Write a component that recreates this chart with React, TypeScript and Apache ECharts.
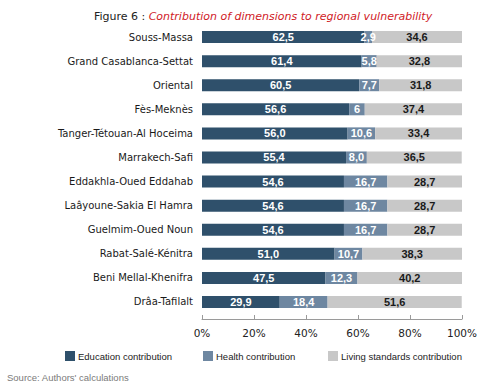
import React, { useEffect, useRef } from "react";
import * as echarts from "echarts";

const categories = [
  "Souss-Massa",
  "Grand Casablanca-Settat",
  "Oriental",
  "Fès-Meknès",
  "Tanger-Tétouan-Al Hoceima",
  "Marrakech-Safi",
  "Eddakhla-Oued Eddahab",
  "Laâyoune-Sakia El Hamra",
  "Guelmim-Oued Noun",
  "Rabat-Salé-Kénitra",
  "Beni Mellal-Khenifra",
  "Drâa-Tafilalt",
];
const education = [62.5, 61.4, 60.5, 56.6, 56.0, 55.4, 54.6, 54.6, 54.6, 51.0, 47.5, 29.9];
const health = [2.9, 5.8, 7.7, 6, 10.6, 8.0, 16.7, 16.7, 16.7, 10.7, 12.3, 18.4];
const healthLabels = ["2,9", "5,8", "7,7", "6", "10,6", "8,0", "16,7", "16,7", "16,7", "10,7", "12,3", "18,4"];
const living = [34.6, 32.8, 31.8, 37.4, 33.4, 36.5, 28.7, 28.7, 28.7, 38.3, 40.2, 51.6];
const seriesNames = ["Education contribution", "Health contribution", "Living standards contribution"];
const xTicks = [0, 20, 40, 60, 80, 100];

const fmt = (v: number) => v.toFixed(1).replace(".", ",");

export default function App() {
  const ref = useRef<HTMLDivElement>(null);
  useEffect(() => {
    if (!ref.current) return;
    const chart = echarts.init(ref.current, null, { renderer: "svg" });
    const labelBase = {
      show: true,
      position: "inside",
      fontFamily: "Liberation Sans",
      fontWeight: "bold",
      fontSize: 11,
    };
    const legendLefts = [60, 198, 323];
    const legendBase = {
      top: 346,
      icon: "rect",
      itemWidth: 10,
      itemHeight: 10,
      itemGap: 0,
      textStyle: { fontFamily: "Liberation Sans", fontSize: 9.5, color: "#222222", padding: [0, 0, 0, -2] },
    };
    chart.setOption({
      animation: false,
      backgroundColor: "#ffffff",
      textStyle: { fontFamily: "DejaVu Sans" },
      title: {
        text: "{a|Figure 6 : }{b|Contribution of dimensions to regional vulnerability}",
        left: 258,
        textAlign: "center",
        top: 6,
        textStyle: {
          fontWeight: "normal",
          rich: {
            a: { fontFamily: "DejaVu Sans", fontSize: 11, color: "#222222", fontWeight: "normal" },
            b: {
              fontFamily: "DejaVu Sans",
              fontSize: 11,
              color: "#d0201f",
              fontStyle: "italic",
              fontWeight: "normal",
            },
          },
        },
      },
      legend: seriesNames.map((n, i) => ({ ...legendBase, left: legendLefts[i], data: [n] })),
      grid: { left: 202, right: 17, top: 25, bottom: 75, containLabel: false },
      xAxis: {
        type: "value",
        min: xTicks[0],
        max: xTicks[xTicks.length - 1],
        interval: 20,
        offset: 5,
        axisLine: { show: true, lineStyle: { color: "#9a9a9a" } },
        axisTick: { show: true, length: 4, inside: true, lineStyle: { color: "#9a9a9a" } },
        splitLine: { show: false },
        axisLabel: {
          formatter: "{value}%",
          color: "#222222",
          fontFamily: "DejaVu Sans",
          fontSize: 10.5,
          margin: 8,
        },
      },
      yAxis: {
        type: "category",
        inverse: true,
        data: categories,
        axisLine: { show: false },
        axisTick: { show: false },
        axisLabel: { color: "#1a1a1a", fontFamily: "DejaVu Sans", fontSize: 10, margin: 9 },
      },
      series: [
        {
          name: seriesNames[0],
          type: "bar",
          stack: "total",
          barWidth: 12,
          data: education,
          itemStyle: { color: "#2f506b" },
          label: { ...labelBase, color: "#ffffff", formatter: (p: any) => fmt(p.value) },
        },
        {
          name: seriesNames[1],
          type: "bar",
          stack: "total",
          barWidth: 12,
          data: health,
          itemStyle: { color: "#6e87a1" },
          label: { ...labelBase, color: "#ffffff", formatter: (p: any) => healthLabels[p.dataIndex] },
        },
        {
          name: seriesNames[2],
          type: "bar",
          stack: "total",
          barWidth: 12,
          data: living,
          itemStyle: { color: "#c8c8c8" },
          label: { ...labelBase, color: "#1a1a1a", formatter: (p: any) => fmt(p.value) },
        },
      ],
      graphic: [
        {
          type: "text",
          left: 7,
          top: 372,
          style: {
            text: "Source: Authors' calculations",
            fontFamily: "Liberation Sans",
            fontSize: 9.5,
            fill: "#7a7a7a",
          },
        },
      ],
    });
    return () => chart.dispose();
  }, []);
  return <div ref={ref} style={{ width: 480, height: 389, position: "absolute", left: 0, top: 0 }} />;
}
